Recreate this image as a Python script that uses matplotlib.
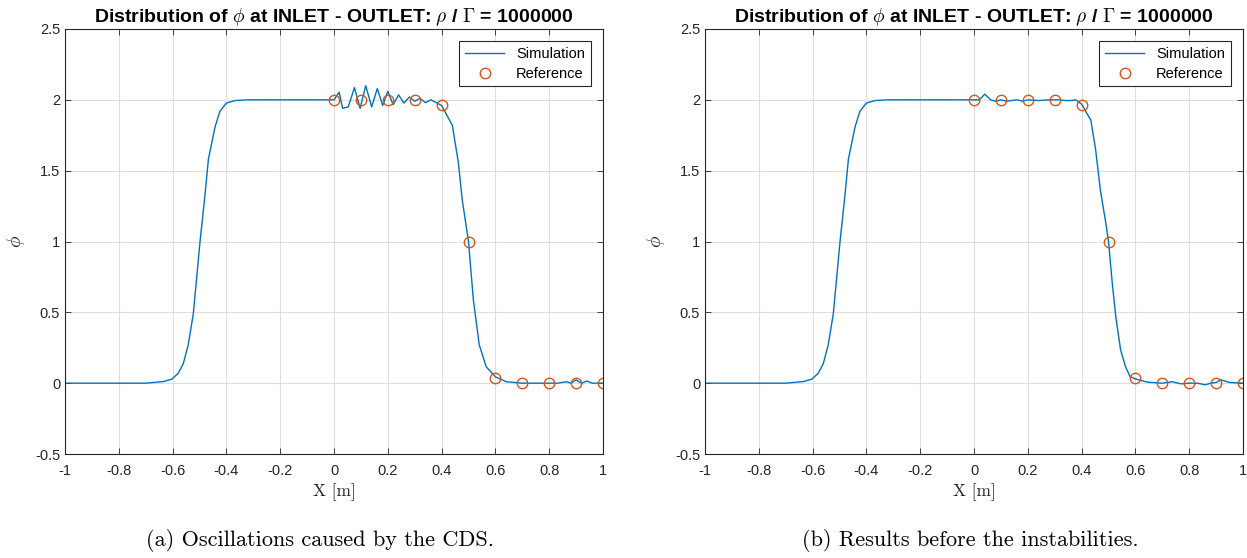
import matplotlib
matplotlib.use("Agg")
import matplotlib.pyplot as plt
from matplotlib.ticker import FuncFormatter, MultipleLocator

plt.rcParams['font.family'] = ['Liberation Sans', 'DejaVu Sans']
plt.rcParams['mathtext.fontset'] = 'cm'
plt.rcParams['axes.unicode_minus'] = False

# ---- data ----
x_sim_a = [-1.0, -0.7, -0.635, -0.603, -0.579, -0.56, -0.542, -0.523, -0.498, -0.48, -0.467,
           -0.442, -0.424, -0.4, -0.368, -0.32, -0.2, 0.0, 0.019, 0.032, 0.053, 0.076, 0.097,
           0.118, 0.14, 0.161, 0.181, 0.2, 0.22, 0.24, 0.26, 0.28, 0.30, 0.32, 0.34, 0.36, 0.38,
           0.40, 0.44, 0.462, 0.477, 0.5, 0.518, 0.54, 0.566, 0.6, 0.64, 0.7, 0.77, 0.83, 0.865,
           0.88, 0.9, 0.92, 0.94, 0.96, 1.0]
phi_sim_a = [0.0, 0.0, 0.011, 0.028, 0.07, 0.14, 0.27, 0.49, 1.0, 1.32, 1.58,
             1.81, 1.92, 1.977, 1.995, 2.0, 2.0, 2.0, 2.054, 1.94, 1.95, 2.087, 1.94,
             2.10, 1.95, 2.08, 1.96, 2.06, 1.965, 2.035, 1.977, 2.02, 1.99, 2.01, 1.98, 2.0, 1.98,
             1.96, 1.82, 1.56, 1.29, 1.0, 0.59, 0.27, 0.115, 0.045, 0.01, 0.0, 0.0, 0.0, 0.01,
             0.0, 0.023, 0.0, 0.015, 0.0, 0.0]

x_sim_b = [-1.0, -0.7, -0.635, -0.603, -0.579, -0.56, -0.542, -0.523, -0.498, -0.48, -0.467,
           -0.442, -0.424, -0.4, -0.368, -0.32, -0.2, 0.0, 0.02, 0.04, 0.062, 0.08, 0.1, 0.12,
           0.14, 0.16, 0.18, 0.2, 0.24, 0.28, 0.32, 0.34, 0.36, 0.378, 0.40, 0.427, 0.434, 0.452,
           0.47, 0.49, 0.5, 0.514, 0.527, 0.545, 0.563, 0.58, 0.6, 0.645, 0.7, 0.737, 0.77, 0.8,
           0.83, 0.86, 0.88, 0.9, 0.917, 0.95, 1.0]
phi_sim_b = [0.0, 0.0, 0.011, 0.028, 0.07, 0.14, 0.27, 0.49, 1.0, 1.32, 1.58,
             1.81, 1.92, 1.977, 1.995, 2.0, 2.0, 2.0, 2.0, 2.04, 2.0, 1.99, 2.0, 1.99,
             1.995, 2.0, 1.99, 2.0, 1.995, 2.0, 2.0, 1.995, 1.995, 2.0, 1.97, 1.88, 1.86, 1.65,
             1.36, 1.13, 1.0, 0.706, 0.47, 0.235, 0.117, 0.047, 0.03, 0.007, 0.0, 0.01, -0.005, 0.0,
             0.0, -0.012, 0.0, 0.005, 0.024, 0.005, 0.0]

x_ref = [0.0, 0.1, 0.2, 0.3, 0.4, 0.5, 0.6, 0.7, 0.8, 0.9, 1.0]
phi_ref = [2.0, 2.0, 2.0, 2.0, 1.965, 1.0, 0.04, 0.0, 0.0, 0.0, 0.0]

title_text = r'Distribution of $\phi$ at INLET - OUTLET: $\rho$ / $\Gamma$ = 1000000'
captions = ['(a) Oscillations caused by the CDS.', '(b) Results before the instabilities.']

fig = plt.figure(figsize=(12.47, 5.58), dpi=100)
W, H = 1247, 558
axes_px = [(65, 603), (705, 1243)]
caption_cx = [320, 970]
top_px, bot_px = 29, 454
ink = '#262626'

def fmt(v, pos):
    return '%g' % round(v, 6)

for i, ((l, r), xs, ys) in enumerate(zip(axes_px, [x_sim_a, x_sim_b], [phi_sim_a, phi_sim_b])):
    ax = fig.add_axes([l / W, 1 - bot_px / H, (r - l) / W, (bot_px - top_px) / H])
    ax.plot(xs, ys, color='#0072BD', lw=1.0, label='Simulation')
    ax.plot(x_ref, phi_ref, linestyle='none', marker='o', mfc='none', mec='#D95319',
            mew=1.0, ms=7.5, label='Reference')
    ax.set_xlim(-1, 1)
    ax.set_ylim(-0.5, 2.5)
    ax.xaxis.set_major_locator(MultipleLocator(0.2))
    ax.yaxis.set_major_locator(MultipleLocator(0.5))
    ax.xaxis.set_major_formatter(FuncFormatter(fmt))
    ax.yaxis.set_major_formatter(FuncFormatter(fmt))
    ax.grid(True, color='#dedede', lw=0.8)
    ax.set_axisbelow(True)
    ax.tick_params(direction='in', top=True, right=True, length=4, width=0.6,
                   colors=ink, labelsize=10.5, labelcolor=ink)
    ax.tick_params(axis='x', pad=7)
    for sp in ax.spines.values():
        sp.set_color(ink)
        sp.set_linewidth(0.8)
    ax.set_title(title_text, fontsize=14, fontweight='bold', color='black', pad=5)
    ax.set_xlabel('X [m]', family='cmr10', fontsize=12.5, color=ink, labelpad=4)
    ax.set_ylabel(r'$\phi$', fontsize=14, color=ink, labelpad=6)
    leg = ax.legend(loc='upper right', fontsize=10.5, frameon=True, fancybox=False,
                    edgecolor=ink, framealpha=1, handlelength=2.7, borderaxespad=0.85,
                    borderpad=0.4, labelspacing=0.37, handletextpad=0.8)
    leg.get_frame().set_linewidth(0.8)
    fig.text(caption_cx[i] / W, 1 - 541 / H, captions[i], family='cmr10', fontsize=16,
             ha='center', va='center', color='black')

fig.savefig('out.png', dpi=100)
